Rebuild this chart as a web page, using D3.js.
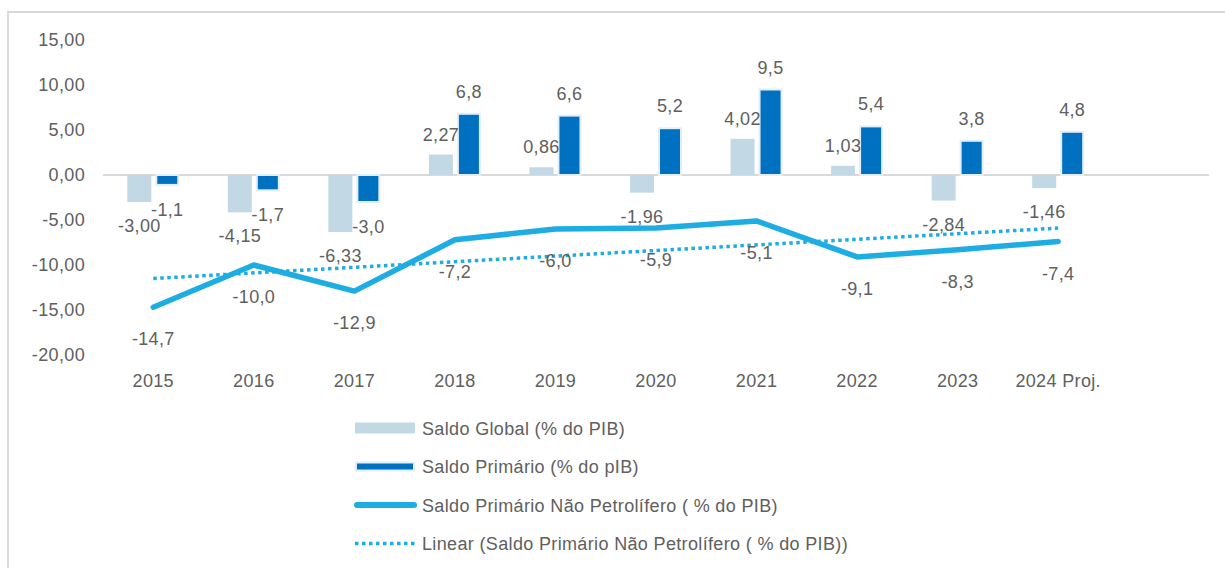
<!DOCTYPE html>
<html lang="pt">
<head>
<meta charset="UTF-8">
<script src="https://d3js.org/d3.v7.min.js"></script>
<title>Saldo</title>
<style>
    * { margin: 0; padding: 0; }
    body { background: #fff; }
    svg text { font-family: "Liberation Sans", Arial, sans-serif; font-size: 18px; fill: #606060; letter-spacing: 0.35px; }
</style>
</head>
<body>
<svg id="chart" width="1225" height="568"></svg>
<script>
    // categories (last band is empty in the original)
    const years = ['2015', '2016', '2017', '2018', '2019', '2020', '2021', '2022', '2023', '2024 Proj.', ''];
    const saldoGlobal = [-3.00, -4.15, -6.33, 2.27, 0.86, -1.96, 4.02, 1.03, -2.84, -1.46];
    const globalLabels = ['-3,00', '-4,15', '-6,33', '2,27', '0,86', '-1,96', '4,02', '1,03', '-2,84', '-1,46'];
    const saldoPrimario = [-1.1, -1.7, -3.0, 6.8, 6.6, 5.2, 9.5, 5.4, 3.8, 4.8];
    const naoPetrolifero = [-14.7, -10.0, -12.9, -7.2, -6.0, -5.9, -5.1, -9.1, -8.3, -7.4];
    // linear trend at 2015 and 2024
    const trendYears = ['2015', '2024 Proj.'];
    const trendValues = [-11.5, -5.9];
    const yTicks = [15, 10, 5, 0, -5, -10, -15, -20];

    const cLight = '#c3d8e5';
    const cDark = '#0070c0';
    const cLine = '#1eade3';

    const svg = d3.select('#chart');
    const fmt = (v, d) => v.toFixed(d).replace('.', ',');

    // outer frame
    svg.append('rect')
        .attr('x', 8).attr('y', 12)
        .attr('width', 1240).attr('height', 580)
        .attr('fill', 'none')
        .attr('stroke', '#d9d9d9')
        .attr('stroke-width', 2);

    const x = d3.scaleBand().domain(years).range([103, 1209]);
    const y = d3.scaleLinear().domain([-20, 15]).range([355, 40]);

    // y axis labels
    svg.append('g').selectAll('text')
        .data(yTicks).enter().append('text')
        .attr('x', 85)
        .attr('y', d => y(d) + 6)
        .attr('text-anchor', 'end')
        .text(d => fmt(d, 2));

    // zero line
    svg.append('line')
        .attr('x1', 103).attr('x2', 1209)
        .attr('y1', y(0)).attr('y2', y(0))
        .attr('stroke', '#d9d9d9').attr('stroke-width', 2);

    const cx = d => x(d) + x.bandwidth() / 2;

    // x labels
    svg.append('g').selectAll('text')
        .data(years.filter(d => d !== '')).enter().append('text')
        .attr('x', d => cx(d))
        .attr('y', 387)
        .attr('text-anchor', 'middle')
        .text(d => d);

    const gData = saldoGlobal.map((v, i) => ({ year: years[i], v: v, label: globalLabels[i] }));
    const pData = saldoPrimario.map((v, i) => ({ year: years[i], v: v }));
    const lData = naoPetrolifero.map((v, i) => ({ year: years[i], v: v }));

    // saldo global bars
    svg.append('g').selectAll('rect')
        .data(gData).enter().append('rect')
        .attr('x', d => cx(d.year) - 26)
        .attr('width', 24)
        .attr('y', d => Math.min(y(d.v), y(0)))
        .attr('height', d => Math.abs(y(d.v) - y(0)))
        .attr('fill', cLight);

    // saldo primario bars
    svg.append('g').selectAll('rect')
        .data(pData).enter().append('rect')
        .attr('x', d => cx(d.year) + 3)
        .attr('width', 22)
        .attr('y', d => Math.min(y(d.v), y(0)))
        .attr('height', d => Math.abs(y(d.v) - y(0)))
        .attr('fill', cDark)
        .attr('stroke', '#e4eef8')
        .attr('stroke-width', 2);

    // trend line
    svg.append('path')
        .datum(trendYears.map((d, i) => [cx(d), y(trendValues[i])]))
        .attr('d', d3.line())
        .attr('fill', 'none')
        .attr('stroke', cLine)
        .attr('stroke-width', 3.5)
        .attr('stroke-dasharray', '3.5,3.5');

    // nao petrolifero line
    svg.append('path')
        .datum(lData)
        .attr('d', d3.line().x(d => cx(d.year)).y(d => y(d.v)))
        .attr('fill', 'none')
        .attr('stroke', cLine)
        .attr('stroke-width', 5.5)
        .attr('stroke-linejoin', 'round')
        .attr('stroke-linecap', 'round');

    // labels
    svg.append('g').selectAll('text')
        .data(gData).enter().append('text')
        .attr('x', d => cx(d.year) - 14)
        .attr('y', d => d.v >= 0 ? y(d.v) - 14 : y(d.v) + 30)
        .attr('text-anchor', 'middle')
        .text(d => d.label);

    svg.append('g').selectAll('text')
        .data(pData).enter().append('text')
        .attr('x', d => cx(d.year) + 14)
        .attr('y', d => d.v >= 0 ? y(d.v) - 16 : y(d.v) + 31)
        .attr('text-anchor', 'middle')
        .text(d => fmt(d.v, 1));

    svg.append('g').selectAll('text')
        .data(lData).enter().append('text')
        .attr('x', d => cx(d.year))
        .attr('y', d => y(d.v) + 38)
        .attr('text-anchor', 'middle')
        .text(d => fmt(d.v, 1));

    // legend
    const legendItems = [
        'Saldo Global (% do PIB)',
        'Saldo Primário (% do pIB)',
        'Saldo Primário Não Petrolífero ( % do PIB)',
        'Linear (Saldo Primário Não Petrolífero ( % do PIB))'
    ];
    const legend = svg.append('g');
    legendItems.forEach((t, i) => {
        const ly = 428 + i * 38.5;
        if (i === 0) {
            legend.append('rect').attr('x', 355).attr('y', ly - 5.5).attr('width', 60).attr('height', 11).attr('fill', cLight);
        } else if (i === 1) {
            legend.append('rect').attr('x', 356).attr('y', ly - 4).attr('width', 58).attr('height', 8)
                .attr('fill', cDark).attr('stroke', '#e4eef8').attr('stroke-width', 2);
        } else if (i === 2) {
            legend.append('line').attr('x1', 357).attr('x2', 414).attr('y1', ly).attr('y2', ly)
                .attr('stroke', cLine).attr('stroke-width', 6).attr('stroke-linecap', 'round');
        } else {
            legend.append('line').attr('x1', 355).attr('x2', 416).attr('y1', ly).attr('y2', ly)
                .attr('stroke', cLine).attr('stroke-width', 3.5).attr('stroke-dasharray', '3.5,3.5');
        }
        legend.append('text').attr('x', 422).attr('y', ly + 6.5).text(t);
    });
</script>
</body>
</html>
